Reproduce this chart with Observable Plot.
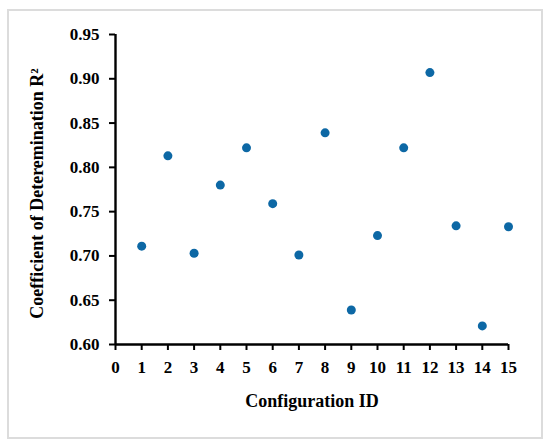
<!DOCTYPE html>
<html>
<head>
<meta charset="utf-8">
<script src="https://cdn.jsdelivr.net/npm/d3@7"></script>
<script src="https://cdn.jsdelivr.net/npm/@observablehq/plot@0.6"></script>
<style>
  html, body { margin: 0; padding: 0; background: #fff; }
  #wrap { position: relative; width: 550px; height: 448px; }
  #frame { position: absolute; left: 7px; top: 9px; width: 532px; height: 426px; border: 2px solid #dcdcdc; pointer-events: none; }
  #chart svg { display: block; }
</style>
</head>
<body>
<div id="wrap"><div id="chart"></div><div id="frame"></div></div>
<script>
const configIds = [1, 2, 3, 4, 5, 6, 7, 8, 9, 10, 11, 12, 13, 14, 15];
const r2Values = [0.711, 0.813, 0.703, 0.780, 0.822, 0.759, 0.701, 0.839, 0.639, 0.723, 0.822, 0.907, 0.734, 0.621, 0.733];
const xTicks = [0, 1, 2, 3, 4, 5, 6, 7, 8, 9, 10, 11, 12, 13, 14, 15];
const yTicks = [0.60, 0.65, 0.70, 0.75, 0.80, 0.85, 0.90, 0.95];

const data = configIds.map((id, i) => ({id, r2: r2Values[i]}));
const font = "'Liberation Serif', 'DejaVu Serif', serif";

const chart = Plot.plot({
  width: 550,
  height: 448,
  marginLeft: 115,
  marginRight: 42,
  marginTop: 34,
  marginBottom: 104,
  style: {fontFamily: font, fontSize: "17px", fontWeight: "bold", color: "#000", background: "transparent"},
  x: {domain: [0, 15], ticks: xTicks},
  y: {domain: [0.60, 0.95], ticks: yTicks},
  marks: [
    Plot.axisX({ticks: xTicks, tickSize: 6, tickPadding: 10, strokeWidth: 2, label: null, tickFormat: d => String(d), fontWeight: "bold"}),
    Plot.axisY({ticks: yTicks, tickSize: 6, tickPadding: 10, strokeWidth: 2, label: null, tickFormat: d3.format(".2f"), fontWeight: "bold"}),
    Plot.ruleY([0.60], {stroke: "#000", strokeWidth: 2.4}),
    Plot.ruleX([0], {stroke: "#000", strokeWidth: 2.4}),
    Plot.dot(data, {x: "id", y: "r2", r: 4.5, fill: "#0d68a5", stroke: "none"}),
    Plot.text(["Configuration ID"], {frameAnchor: "bottom", dy: 62, fontSize: 18, fontWeight: "bold", fill: "#000"}),
    Plot.text(["Coefficient of Deteremination R²"], {frameAnchor: "left", textAnchor: "middle", dx: -78, dy: 4, rotate: -90, fontSize: 18, fontWeight: "bold", fill: "#000"})
  ]
});
document.getElementById("chart").appendChild(chart);
</script>
</body>
</html>
